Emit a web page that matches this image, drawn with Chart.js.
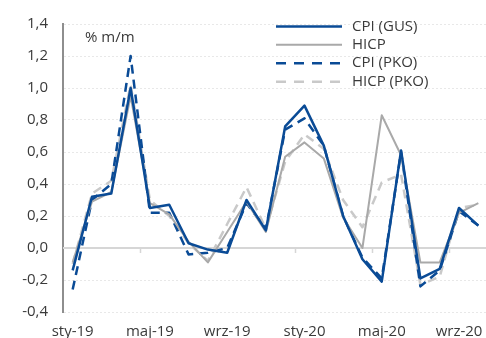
<!DOCTYPE html>
<html>
<head>
<meta charset="utf-8">
<script src="https://cdn.jsdelivr.net/npm/chart.js@4/dist/chart.umd.min.js"></script>
<style>
  html, body { margin: 0; padding: 0; background: #ffffff; overflow: hidden; }
  #wrap { width: 492px; height: 338px; }
</style>
</head>
<body>
<div id="wrap"><canvas id="c" width="492" height="338"></canvas></div>
<script>
// Monthly inflation, % m/m
const months = ['sty-19','lut-19','mar-19','kwi-19','maj-19','cze-19','lip-19','sie-19','wrz-19','paź-19','lis-19','gru-19',
                'sty-20','lut-20','mar-20','kwi-20','maj-20','cze-20','lip-20','sie-20','wrz-20','paź-20'];
const cpiGus  = [-0.14, 0.32, 0.34, 1.00, 0.25, 0.27, 0.03, -0.01, -0.03, 0.30, 0.11, 0.76, 0.89, 0.64, 0.20, -0.07, -0.21, 0.61, -0.19, -0.13, 0.25, 0.14];
const hicp    = [-0.09, 0.29, 0.35, 0.95, 0.28, 0.21, 0.04, -0.09, 0.10, 0.29, 0.10, 0.57, 0.66, 0.56, 0.19, 0.00, 0.83, 0.58, -0.09, -0.09, 0.22, 0.28];
const cpiPko  = [-0.26, 0.30, 0.40, 1.20, 0.22, 0.22, -0.04, -0.03, 0.00, 0.28, 0.12, 0.74, 0.81, 0.64, 0.20, -0.06, -0.19, 0.60, -0.24, -0.14, 0.23, 0.14];
const hicpPko = [-0.10, 0.34, 0.42, 1.02, 0.30, 0.20, 0.03, -0.08, 0.15, 0.38, 0.12, 0.54, 0.71, 0.62, 0.30, 0.13, 0.41, 0.46, -0.23, -0.18, 0.25, 0.27];
const yTicks  = { min: -0.4, max: 1.4, step: 0.2 };
const unitLabel = '% m/m';

const BLUE = '#0a4b96';
const GREY = '#a9a9a9';
const LIGHT_GREY = '#c9c9c9';
const FONT = '"Open Sans", "DejaVu Sans", sans-serif';
const TEXT = '#3a3a3a';

const fmt = v => v.toFixed(1).replace('.', ',').replace('-0,0', '0,0');

// zero line, boundary ticks every 4 months, unit label and legend
const decor = {
  id: 'decor',
  beforeDatasetsDraw(chart) {
    const { ctx, chartArea, scales: { x, y } } = chart;
    const y0 = y.getPixelForValue(0);
    ctx.save();
    ctx.strokeStyle = '#d6d6d6';
    ctx.lineWidth = 2;
    ctx.beginPath();
    ctx.moveTo(chartArea.left, y0);
    ctx.lineTo(chartArea.right, y0);
    ctx.stroke();
    const half = (x.getPixelForValue(1) - x.getPixelForValue(0)) / 2;
    ctx.lineWidth = 1.5;
    for (let i = 4; i < months.length; i += 4) {
      const bx = Math.round(x.getPixelForValue(i) - half) + 0.5;
      ctx.beginPath();
      ctx.moveTo(bx, y0);
      ctx.lineTo(bx, y0 + 5);
      ctx.stroke();
    }
    ctx.restore();
  },
  afterDraw(chart) {
    const { ctx } = chart;
    ctx.save();
    ctx.font = '15px ' + FONT;
    ctx.fillStyle = TEXT;
    ctx.textBaseline = 'middle';
    ctx.textAlign = 'left';
    ctx.fillText(unitLabel, 85, 38);

    const rows = [26.5, 44.8, 63.2, 81.7];
    chart.data.datasets.forEach((ds, i) => {
      const ly = rows[i];
      ctx.strokeStyle = ds.borderColor;
      ctx.lineWidth = ds.borderWidth;
      ctx.setLineDash(ds.borderDash && ds.borderDash.length ? [10, 8] : []);
      ctx.lineCap = 'butt';
      ctx.beginPath();
      ctx.moveTo(276, ly);
      ctx.lineTo(342, ly);
      ctx.stroke();
      ctx.setLineDash([]);
      ctx.fillStyle = TEXT;
      ctx.fillText(ds.label, 352, ly);
    });
    ctx.restore();
  }
};

new Chart(document.getElementById('c'), {
  type: 'line',
  data: {
    labels: months,
    datasets: [
      { label: 'CPI (GUS)',  data: cpiGus,  borderColor: BLUE,       borderWidth: 2.5, borderDash: [] },
      { label: 'HICP',       data: hicp,    borderColor: GREY,       borderWidth: 2,   borderDash: [] },
      { label: 'CPI (PKO)',  data: cpiPko,  borderColor: BLUE,       borderWidth: 2.5, borderDash: [9, 6] },
      { label: 'HICP (PKO)', data: hicpPko, borderColor: LIGHT_GREY, borderWidth: 2.5, borderDash: [9, 6] }
    ]
  },
  options: {
    responsive: false,
    animation: false,
    devicePixelRatio: 1,
    layout: { padding: { top: 16, right: 4, left: 0, bottom: 0 } },
    elements: {
      line: { tension: 0, fill: false, borderCapStyle: 'butt', borderJoinStyle: 'round' },
      point: { radius: 0, hoverRadius: 0 }
    },
    plugins: { legend: { display: false }, tooltip: { enabled: false } },
    scales: {
      x: {
        type: 'category',
        offset: true,
        grid: { display: false, drawTicks: false },
        border: { display: false },
        ticks: {
          autoSkip: false,
          maxRotation: 0,
          padding: 11,
          color: TEXT,
          font: { family: FONT, size: 15 },
          callback: (v, i) => (i % 4 === 0 ? months[i] : '')
        },
        afterFit: s => { s.height = 26; }
      },
      y: {
        min: yTicks.min,
        max: yTicks.max,
        grid: { color: '#e8e8e8', lineWidth: 1, drawTicks: false },
        border: { display: true, color: '#8e8e8e', width: 2, dash: [2, 2] },
        ticks: {
          stepSize: yTicks.step,
          padding: 15,
          color: TEXT,
          font: { family: FONT, size: 15 },
          callback: v => fmt(v)
        },
        afterFit: s => { s.width = 63; }
      }
    }
  },
  plugins: [decor]
});
</script>
</body>
</html>
